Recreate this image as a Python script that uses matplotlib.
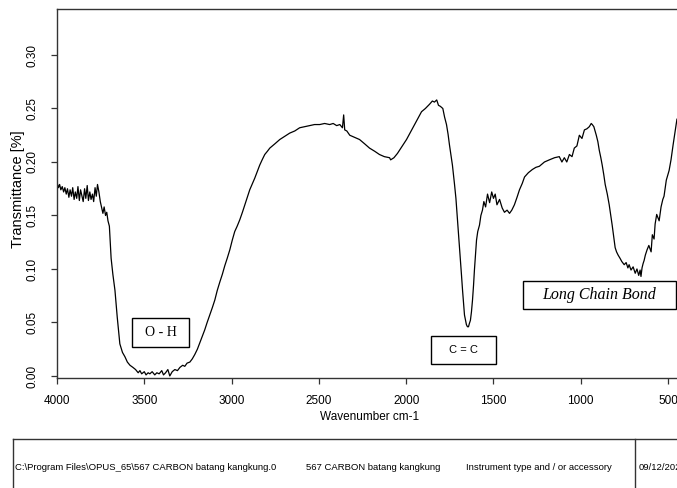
import matplotlib
matplotlib.use("Agg")
import matplotlib.pyplot as plt
from matplotlib.patches import Rectangle
from matplotlib.lines import Line2D

# ---- data: (wavenumber cm-1, transmittance) ----
high_freq = [(4000, 0.181), (3992, 0.176), (3985, 0.179), (3978, 0.174), (3970, 0.177),
             (3962, 0.172), (3955, 0.176), (3947, 0.170), (3940, 0.175), (3932, 0.167),
             (3925, 0.174), (3917, 0.168), (3910, 0.176), (3902, 0.165), (3895, 0.172),
             (3887, 0.166), (3880, 0.177), (3872, 0.164), (3865, 0.174), (3857, 0.168),
             (3850, 0.163), (3842, 0.175), (3835, 0.166), (3827, 0.178), (3820, 0.164),
             (3812, 0.172), (3805, 0.165), (3797, 0.170), (3790, 0.163), (3782, 0.176),
             (3775, 0.168), (3768, 0.179), (3760, 0.172), (3752, 0.163), (3745, 0.158),
             (3737, 0.152), (3730, 0.158), (3722, 0.150), (3715, 0.153), (3708, 0.145)]

oh_band = [(3700, 0.140), (3695, 0.125), (3690, 0.110), (3680, 0.095), (3668, 0.080),
           (3655, 0.055), (3640, 0.030), (3625, 0.022), (3611, 0.018), (3597, 0.013),
           (3582, 0.010), (3565, 0.008), (3550, 0.006), (3535, 0.003), (3525, 0.005),
           (3515, 0.002), (3500, 0.004), (3490, 0.001), (3478, 0.003), (3468, 0.002),
           (3455, 0.004), (3440, 0.001), (3428, 0.003), (3415, 0.002), (3400, 0.005),
           (3390, 0.001), (3378, 0.003), (3365, 0.006), (3354, 0.000), (3340, 0.004),
           (3325, 0.006), (3310, 0.005), (3296, 0.008), (3280, 0.010), (3268, 0.009),
           (3255, 0.012), (3239, 0.013), (3225, 0.016), (3211, 0.020), (3196, 0.025),
           (3182, 0.031), (3168, 0.037), (3154, 0.043), (3140, 0.050), (3125, 0.057),
           (3110, 0.064), (3096, 0.071), (3082, 0.080), (3067, 0.088), (3053, 0.095),
           (3039, 0.103), (3025, 0.110), (3010, 0.118), (2996, 0.127), (2982, 0.135),
           (2968, 0.140), (2953, 0.146), (2938, 0.153), (2924, 0.160), (2910, 0.167),
           (2896, 0.174), (2880, 0.180), (2867, 0.185), (2853, 0.191), (2839, 0.197),
           (2825, 0.202), (2810, 0.207)]

plateau = [(2795, 0.210), (2781, 0.213), (2752, 0.217), (2724, 0.221), (2695, 0.224),
           (2667, 0.227), (2638, 0.229), (2610, 0.232), (2580, 0.233), (2553, 0.234),
           (2525, 0.235), (2495, 0.235), (2467, 0.236), (2438, 0.235), (2418, 0.236),
           (2398, 0.234), (2380, 0.235), (2365, 0.232), (2358, 0.244), (2352, 0.230),
           (2340, 0.229), (2323, 0.225), (2295, 0.223), (2267, 0.221), (2238, 0.217),
           (2210, 0.213), (2180, 0.210), (2153, 0.207), (2125, 0.205), (2095, 0.204),
           (2089, 0.202), (2070, 0.204), (2050, 0.208), (2038, 0.211), (2018, 0.216),
           (1998, 0.221), (1975, 0.228), (1952, 0.235), (1932, 0.241), (1912, 0.247)]

cc_band = [(1890, 0.250), (1866, 0.254), (1850, 0.257), (1838, 0.256), (1825, 0.258),
           (1815, 0.253), (1804, 0.252), (1790, 0.250), (1780, 0.242), (1769, 0.235),
           (1760, 0.226), (1752, 0.216), (1743, 0.206), (1735, 0.197), (1723, 0.179),
           (1715, 0.166), (1706, 0.146), (1698, 0.128), (1689, 0.108), (1683, 0.094),
           (1677, 0.080), (1671, 0.068), (1666, 0.057), (1660, 0.052), (1655, 0.048),
           (1649, 0.046), (1643, 0.046), (1638, 0.049), (1632, 0.052), (1626, 0.060),
           (1620, 0.071), (1614, 0.085), (1609, 0.099), (1603, 0.113), (1597, 0.127),
           (1590, 0.135), (1580, 0.141), (1572, 0.150), (1563, 0.155), (1555, 0.163),
           (1545, 0.158), (1534, 0.170), (1522, 0.162), (1510, 0.172), (1500, 0.166),
           (1490, 0.170), (1480, 0.160), (1465, 0.165), (1450, 0.157), (1437, 0.153),
           (1422, 0.155), (1408, 0.152)]

fingerprint = [(1395, 0.155), (1380, 0.160), (1365, 0.167), (1351, 0.174), (1335, 0.180),
               (1322, 0.186), (1300, 0.190), (1277, 0.193), (1257, 0.195), (1237, 0.196),
               (1208, 0.200), (1180, 0.202), (1150, 0.204), (1123, 0.205), (1108, 0.200),
               (1094, 0.204), (1080, 0.200), (1065, 0.207), (1050, 0.205), (1037, 0.213),
               (1022, 0.215), (1008, 0.225), (993, 0.222), (979, 0.230), (965, 0.231),
               (951, 0.233), (940, 0.236), (934, 0.235), (925, 0.233)]

long_chain = [(911, 0.225), (902, 0.219), (894, 0.211), (885, 0.204), (877, 0.197),
              (868, 0.188), (860, 0.179), (848, 0.170), (837, 0.160), (828, 0.150),
              (820, 0.141), (811, 0.130), (803, 0.120), (795, 0.116), (786, 0.113),
              (775, 0.110), (765, 0.107), (751, 0.104), (740, 0.106), (730, 0.101),
              (723, 0.104), (712, 0.099), (700, 0.102), (688, 0.096), (678, 0.100),
              (668, 0.094), (660, 0.099), (655, 0.093), (649, 0.101), (643, 0.105),
              (637, 0.108), (630, 0.113), (620, 0.118), (610, 0.122), (597, 0.116),
              (590, 0.132), (580, 0.128), (574, 0.142), (565, 0.151), (551, 0.145),
              (540, 0.158), (530, 0.165), (523, 0.168), (510, 0.183), (494, 0.192),
              (483, 0.202), (471, 0.216), (460, 0.228), (449, 0.240)]

xticks = [4000, 3500, 3000, 2500, 2000, 1500, 1000, 500]
yticks = [0.00, 0.05, 0.10, 0.15, 0.20, 0.25, 0.30]
ytick_labels = ["0.00", "0.05", "0.10", "0.15", "0.20", "0.25", "0.30"]

annotations = ["O - H", "C = C", "Long Chain Bond"]
footer_texts = ["C:\\Program Files\\OPUS_65\\567 CARBON batang kangkung.0",
                "567 CARBON batang kangkung",
                "Instrument type and / or accessory",
                "09/12/2022"]

spectrum = high_freq + oh_band + plateau + cc_band + fingerprint + long_chain
wavenumber = [p[0] for p in spectrum]
transmittance = [p[1] for p in spectrum]

# ---- figure ----
W, H = 677, 488
fig = plt.figure(figsize=(W / 100, H / 100), dpi=100)
plt.rcParams['font.family'] = ['Liberation Sans', 'DejaVu Sans']

def fx(px):
    return px / W

def fy(py):
    return 1 - py / H

ax_left, ax_right = 57, 685.5
ax_top, ax_bottom = 9, 378
ax = fig.add_axes([fx(ax_left), fy(ax_bottom), (ax_right - ax_left) / W, (ax_bottom - ax_top) / H])
ax.set_xlim(4000, 400)
ax.set_ylim(-0.0019, 0.343)

ax.plot(wavenumber, transmittance, color='black', lw=0.9)

spine_col = '#333333'
for s in ['left', 'top', 'bottom']:
    ax.spines[s].set_color(spine_col)
    ax.spines[s].set_linewidth(1.0)
ax.spines['right'].set_visible(False)

ax.set_xticks(xticks)
ax.set_xticklabels([str(t) for t in xticks], fontsize=8.5)
ax.set_yticks(yticks)
ax.set_yticklabels(ytick_labels, fontsize=8.5, rotation=90, va='center')
ax.tick_params(axis='both', direction='out', length=4, width=0.9, color=spine_col)
ax.tick_params(axis='x', pad=8)
ax.tick_params(axis='y', pad=9)

fig.text(fx(370), fy(417), "Wavenumber cm-1", fontsize=8.5, ha='center', va='center')
fig.text(fx(18), fy(189), "Transmittance [%]", fontsize=10.5, ha='center', va='center', rotation=90)

def box(x0, y0, x1, y1, text, **kw):
    fig.patches.append(Rectangle((fx(x0), fy(y1)), fx(x1) - fx(x0), fy(y0) - fy(y1),
                                 transform=fig.transFigure, fill=False,
                                 edgecolor='black', lw=1.0))
    fig.text(fx((x0 + x1) / 2), fy((y0 + y1) / 2), text, ha='center', va='center', **kw)

box(132, 318, 189, 347, annotations[0], family='Liberation Serif', fontsize=10)
box(431, 336, 496, 364, annotations[1], fontsize=8)
box(523, 281, 676, 309, annotations[2], family='Liberation Serif', style='italic', fontsize=11.5)

lc = '#333333'
fig.add_artist(Line2D([fx(13), fx(677)], [fy(439), fy(439)], transform=fig.transFigure, color=lc, lw=1.0))
fig.add_artist(Line2D([fx(13), fx(13)], [fy(439), fy(488)], transform=fig.transFigure, color=lc, lw=1.0))
fig.add_artist(Line2D([fx(635), fx(635)], [fy(439), fy(488)], transform=fig.transFigure, color=lc, lw=1.0))

fs = 6.8
fig.text(fx(15), fy(467), footer_texts[0], fontsize=fs, ha='left', va='center')
fig.text(fx(306), fy(467), footer_texts[1], fontsize=fs, ha='left', va='center')
fig.text(fx(466), fy(467), footer_texts[2], fontsize=fs, ha='left', va='center')
fig.text(fx(639), fy(467), footer_texts[3], fontsize=fs, ha='left', va='center')

fig.savefig("out.png", dpi=100)
